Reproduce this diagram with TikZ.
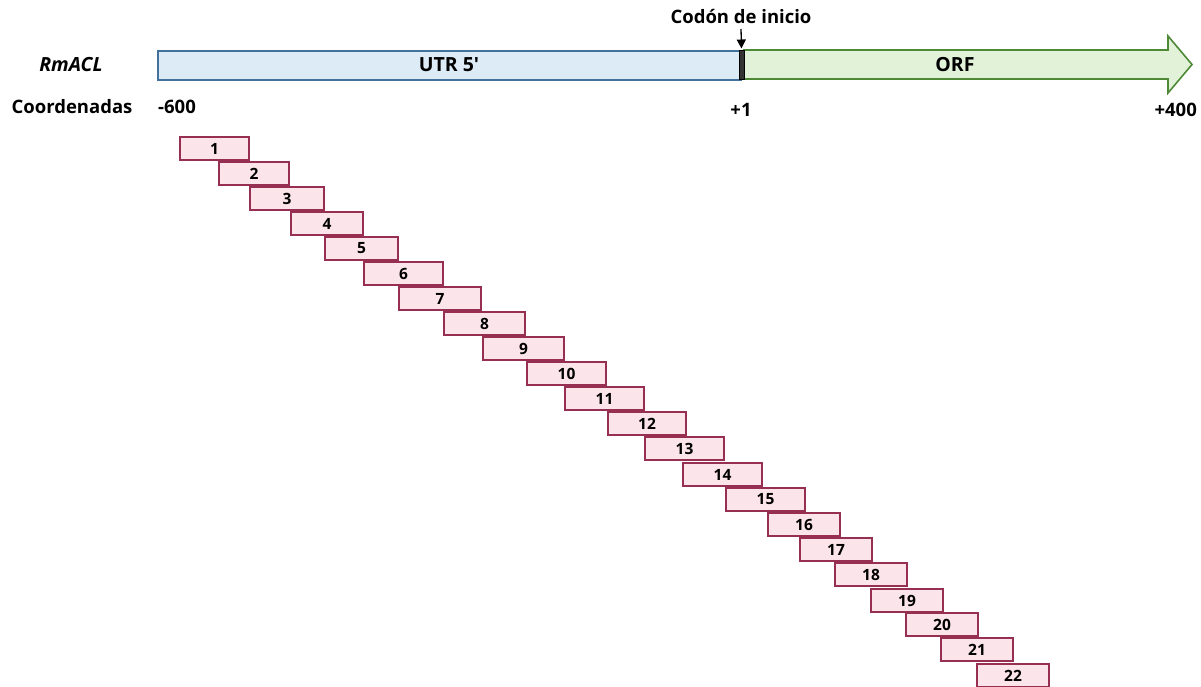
\documentclass[tikz,border=0pt]{standalone}
\usepackage{fontspec}
\setmainfont{Open Sans}
\usetikzlibrary{arrows.meta}
\definecolor{utrfill}{HTML}{DDEBF7}
\definecolor{utrdraw}{HTML}{41719C}
\definecolor{orffill}{HTML}{E2F2D9}
\definecolor{orfdraw}{HTML}{4E8A35}
\definecolor{segfill}{HTML}{FBE4EA}
\definecolor{segdraw}{HTML}{962F52}
\tikzset{
  seg/.style={draw=segdraw, fill=segfill, line width=2pt, inner sep=0pt, anchor=north west, minimum height=23pt, font=\fontsize{15.5}{17}\selectfont\bfseries},
  lbl/.style={font=\fontsize{18.5}{21}\selectfont\bfseries, inner sep=0pt},
}
\begin{document}
\begin{tikzpicture}[x=1pt,y=1pt]
\useasboundingbox (0,0) rectangle (1201,-687);
% UTR
\node[draw=utrdraw, fill=utrfill, line width=1.6pt, anchor=north west, minimum width=583pt, minimum height=29pt, inner sep=0pt] (utr) at (157,-50) {};
\node[lbl, font=\fontsize{19.5}{21}\selectfont\bfseries] (utrl) at (449,-65) {UTR 5{\addfontfeature{Ligatures=TeXOff}'}};
% ORF arrow
\draw[draw=orfdraw, fill=orffill, line width=1.6pt, line join=miter] (744,-50) -- (1168,-50) -- (1168,-36) -- (1192,-64.5) -- (1168,-93) -- (1168,-79) -- (744,-79) -- cycle;
\node[lbl, font=\fontsize{19.5}{21}\selectfont\bfseries] (orfl) at (955,-65) {ORF};
% start codon
\node[draw=black, fill=black!80, line width=1pt, anchor=north west, minimum width=5pt, minimum height=29pt, inner sep=0pt] (sc) at (738.5,-50) {};
\node[lbl] (cod) at (741,-17) {Codón de inicio};
\coordinate (c0) at (741,-29);
\draw[-{Triangle[length=9pt,width=9pt]}, line width=1.3pt] (c0) -- ([yshift=1.5pt]sc.north);
% labels
\node[lbl, font=\fontsize{19.5}{21}\selectfont\bfseries\itshape] (gene) at (71,-65) {RmACL};
\node[lbl] (coord) at (72,-107) {Coordenadas};
\node[lbl, anchor=west] (m600) at (158,-107) {-600};
\node[lbl] (p1) at (741,-110) {+1};
\node[lbl, anchor=east] (p400) at (1197,-110) {+400};
% segments
\foreach \n/\xa/\xb/\yy in {1/179/248/136, 2/218/288/161, 3/249/323/186, 4/290/362/211, 5/324/397/236, 6/363/442/261, 7/398/480/286, 8/443/524/311, 9/482/563/336, 10/526/605/361, 11/564/643/386, 12/607/685/411, 13/644/723/436, 14/682/761/462, 15/725/804/487, 16/767/839/512, 17/799/871/537, 18/834/906/562, 19/870/942/588, 20/905/977/612, 21/940/1012/637, 22/976/1048/663}{
  \pgfmathsetmacro{\w}{\xb-\xa}
  \node[seg, minimum width=\w pt] (b\n) at (\xa,-\yy) {\n};
}
\end{tikzpicture}
\end{document}
